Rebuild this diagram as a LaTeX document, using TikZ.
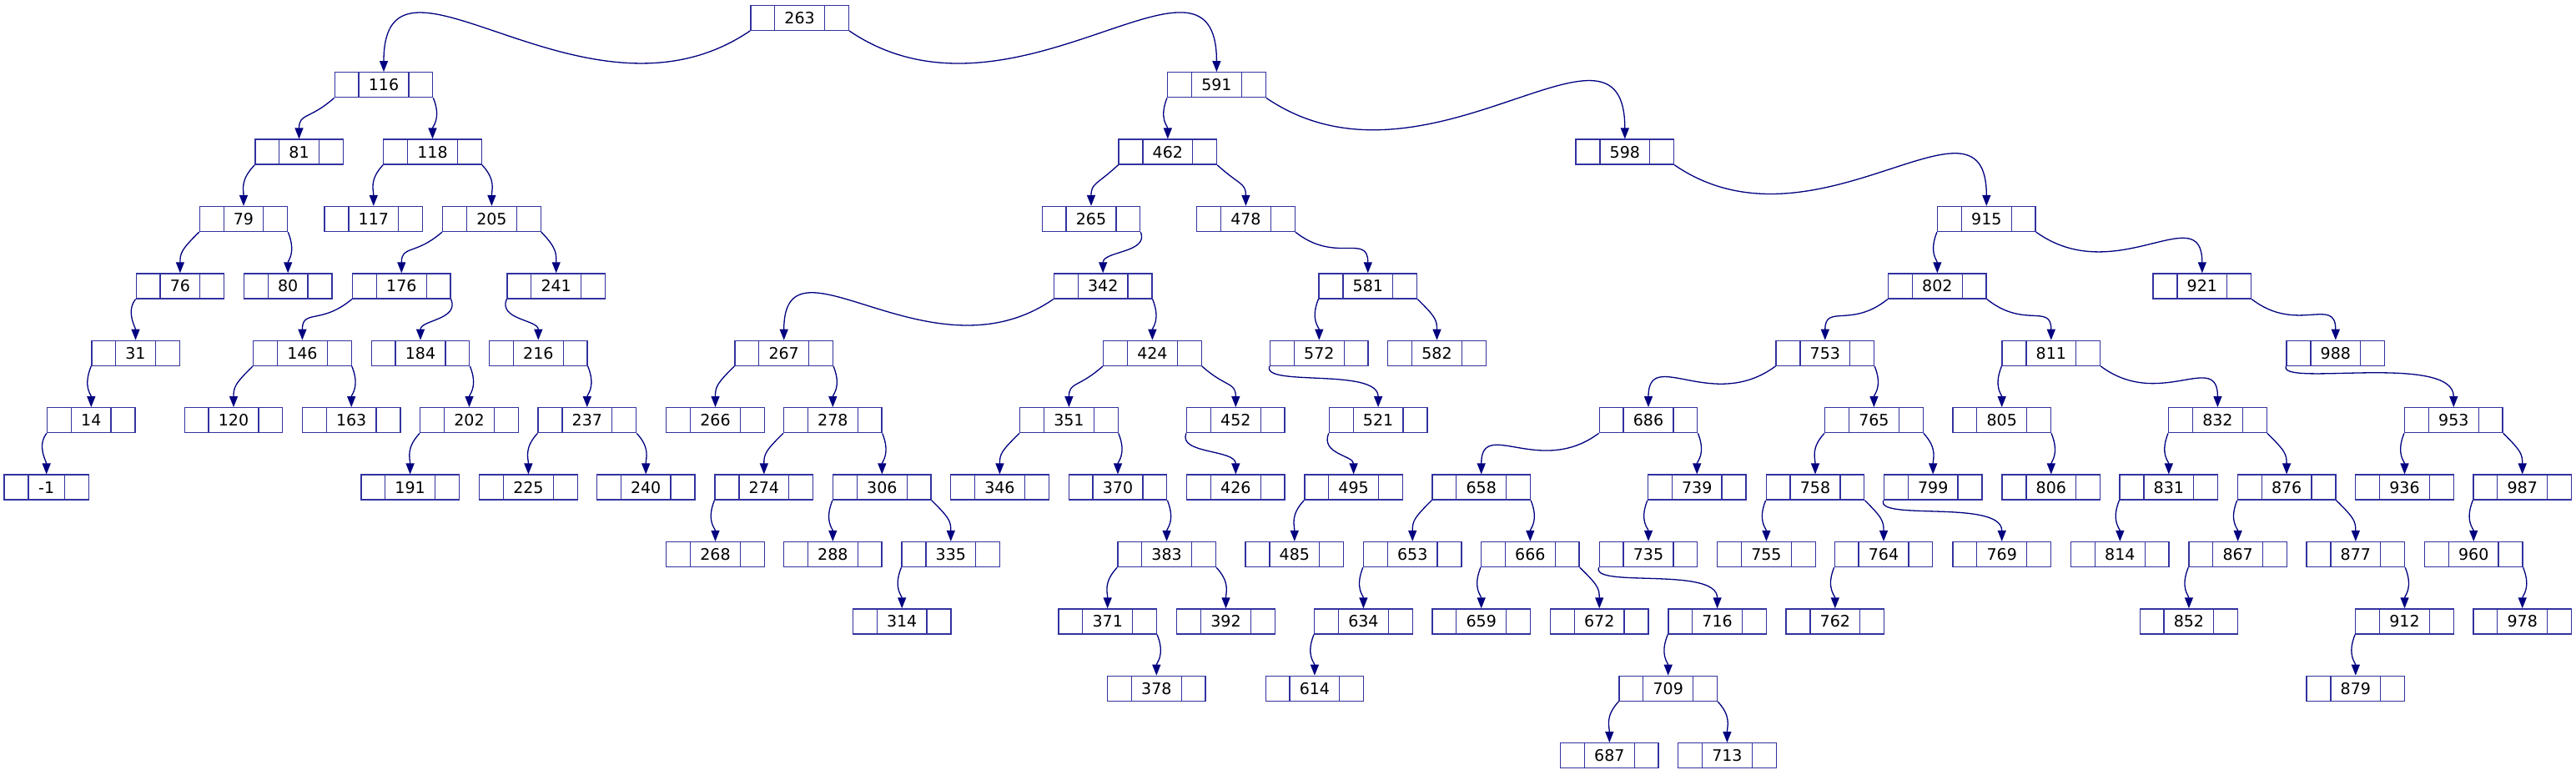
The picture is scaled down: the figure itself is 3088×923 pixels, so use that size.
\documentclass[tikz,border=0pt]{standalone}
\usepackage{fontspec}
\setmainfont{DejaVu Sans}
\usetikzlibrary{arrows.meta,calc}
\definecolor{boxc}{RGB}{50,50,160}
\definecolor{edgec}{RGB}{0,0,128}
\tikzset{
  rec/.style={draw=boxc, line width=1.3pt, minimum height=30pt, inner sep=0pt, font=\fontsize{19}{22}\selectfont},
  recline/.style={draw=boxc, line width=1.3pt},
  edge/.style={draw=edgec, line width=1.3pt, -{Triangle[length=13pt,width=10pt]}},
}
\newcommand\recnode[5]{%
  \node[rec, minimum width={#5pt+59pt}] (#1) at (#2,{21.3+80.4*#3}) {#4};
  \draw[recline] ([xshift=29.5pt]#1.north west) -- ([xshift=29.5pt]#1.south west);
  \draw[recline] ([xshift=-29.5pt]#1.north east) -- ([xshift=-29.5pt]#1.south east);}
\newcommand\tnode[3]{\recnode{n#3}{#1}{#2}{#3}{58.5}}
\newcommand\dnode[3]{\recnode{n#3}{#1}{#2}{#3}{46.3}}
\newcommand\eL[2]{\draw[edge] let \p1=(#1.south west), \p2=(#2.north),
  \n1={abs(\x2-\x1)},
  \n2={(\x2<\x1) ? (12pt+0.42*\n1) : (10pt)},
  \n3={(\x2<\x1) ? (15pt+0.27*\n1) : (25pt)},
  \n4={(\x2<\x1) ? (15pt+0.38*\n1) : (15pt+0.25*\n1)}
  in (#1.south west) .. controls (\x1-\n2,\y1-\n3) and (\x2,\y2+\n4) .. (#2.north);}
\newcommand\eR[2]{\draw[edge] let \p1=(#1.south east), \p2=(#2.north),
  \n1={abs(\x2-\x1)},
  \n2={(\x2>\x1) ? (12pt+0.42*\n1) : (10pt)},
  \n3={(\x2>\x1) ? (15pt+0.27*\n1) : (25pt)},
  \n4={(\x2>\x1) ? (15pt+0.38*\n1) : (15pt+0.25*\n1)}
  in (#1.south east) .. controls (\x1+\n2,\y1-\n3) and (\x2,\y2+\n4) .. (#2.north);}
\begin{document}
\begin{tikzpicture}[x=1pt,y=-1pt]
\path[fill=white,use as bounding box] (0,0) rectangle (3088,923);
% level 0
\tnode{958.6}{0}{263}
% level 1
\tnode{460.0}{1}{116} \tnode{1458.4}{1}{591}
% level 2
\dnode{358.5}{2}{81} \tnode{518.5}{2}{118} \tnode{1399.8}{2}{462} \tnode{1947.8}{2}{598}
% level 3
\dnode{292.0}{3}{79} \tnode{447.8}{3}{117} \tnode{589.4}{3}{205} \tnode{1308.0}{3}{265}
\tnode{1493.4}{3}{478} \tnode{2381.3}{3}{915}
% level 4
\dnode{215.9}{4}{76} \dnode{345.2}{4}{80} \tnode{481.3}{4}{176} \tnode{666.7}{4}{241}
\tnode{1322.2}{4}{342} \tnode{1639.8}{4}{581} \tnode{2322.3}{4}{802} \tnode{2639.8}{4}{921}
% level 5
\dnode{162.5}{5}{31} \tnode{362.4}{5}{146} \tnode{504.0}{5}{184} \tnode{645.3}{5}{216}
\tnode{939.7}{5}{267} \tnode{1381.4}{5}{424} \tnode{1581.3}{5}{572} \tnode{1722.5}{5}{582}
\tnode{2187.8}{5}{753} \tnode{2458.8}{5}{811} \tnode{2799.8}{5}{988}
% level 6
\dnode{109.3}{6}{14} \tnode{280.0}{6}{120} \tnode{421.2}{6}{163} \tnode{562.5}{6}{202}
\tnode{703.8}{6}{237} \tnode{857.5}{6}{266} \tnode{998.3}{6}{278} \tnode{1281.4}{6}{351}
\tnode{1481.3}{6}{452} \tnode{1652.1}{6}{521} \tnode{1976.0}{6}{686} \tnode{2246.4}{6}{765}
\tnode{2399.7}{6}{805} \tnode{2658.4}{6}{832} \tnode{2941.3}{6}{953}
% level 7
\recnode{nm1}{55.7}{7}{-1}{42.3}
\tnode{491.6}{7}{191} \tnode{633.4}{7}{225} \tnode{774.2}{7}{240} \tnode{915.8}{7}{274}
\tnode{1057.3}{7}{306} \tnode{1198.4}{7}{346} \tnode{1340.0}{7}{370} \tnode{1481.3}{7}{426}
\tnode{1622.6}{7}{495} \tnode{1775.7}{7}{658} \tnode{2034.2}{7}{739} \tnode{2176.0}{7}{758}
\tnode{2317.2}{7}{799} \tnode{2458.8}{7}{806} \tnode{2599.8}{7}{831} \tnode{2741.1}{7}{876}
\tnode{2882.5}{7}{936} \tnode{3023.7}{7}{987}
% level 8
\tnode{857.5}{8}{268} \tnode{998.3}{8}{288} \tnode{1139.8}{8}{335} \tnode{1398.6}{8}{383}
\tnode{1551.8}{8}{485} \tnode{1693.2}{8}{653} \tnode{1834.3}{8}{666} \tnode{1976.0}{8}{735}
\tnode{2117.4}{8}{755} \tnode{2258.0}{8}{764} \tnode{2399.7}{8}{769} \tnode{2541.3}{8}{814}
\tnode{2682.6}{8}{867} \tnode{2823.8}{8}{877} \tnode{2965.2}{8}{960}
% level 9
\tnode{1081.2}{9}{314} \tnode{1327.7}{9}{371} \tnode{1469.5}{9}{392} \tnode{1634.4}{9}{634}
\tnode{1775.7}{9}{659} \tnode{1917.2}{9}{672} \tnode{2058.6}{9}{716} \tnode{2199.8}{9}{762}
\tnode{2623.9}{9}{852} \tnode{2882.5}{9}{912} \tnode{3023.7}{9}{978}
% level 10
\tnode{1386.3}{10}{378} \tnode{1575.9}{10}{614} \tnode{1999.7}{10}{709} \tnode{2823.8}{10}{879}
% level 11
\tnode{1929.3}{11}{687} \tnode{2070.4}{11}{713}
% edges
\eL{n263}{n116} \eR{n263}{n591}
\eL{n116}{n81} \eR{n116}{n118}
\eL{n81}{n79}
\eL{n79}{n76} \eR{n79}{n80}
\eL{n76}{n31}
\eL{n31}{n14}
\eL{n14}{nm1}
\eL{n118}{n117} \eR{n118}{n205}
\eL{n205}{n176} \eR{n205}{n241}
\eL{n176}{n146} \eR{n176}{n184}
\eL{n146}{n120} \eR{n146}{n163}
\eR{n184}{n202}
\eL{n202}{n191}
\eL{n241}{n216}
\eR{n216}{n237}
\eL{n237}{n225} \eR{n237}{n240}
\eL{n591}{n462} \eR{n591}{n598}
\eL{n462}{n265} \eR{n462}{n478}
\eR{n265}{n342}
\eL{n342}{n267} \eR{n342}{n424}
\eL{n267}{n266} \eR{n267}{n278}
\eL{n278}{n274} \eR{n278}{n306}
\eL{n274}{n268}
\eL{n306}{n288} \eR{n306}{n335}
\eL{n335}{n314}
\eL{n424}{n351} \eR{n424}{n452}
\eL{n351}{n346} \eR{n351}{n370}
\eR{n370}{n383}
\eL{n383}{n371} \eR{n383}{n392}
\eR{n371}{n378}
\eL{n452}{n426}
\eR{n478}{n581}
\eL{n581}{n572} \eR{n581}{n582}
\eL{n572}{n521}
\eL{n521}{n495}
\eL{n495}{n485}
\eR{n598}{n915}
\eL{n915}{n802} \eR{n915}{n921}
\eL{n802}{n753} \eR{n802}{n811}
\eL{n753}{n686} \eR{n753}{n765}
\eL{n686}{n658} \eR{n686}{n739}
\eL{n658}{n653} \eR{n658}{n666}
\eL{n653}{n634}
\eL{n634}{n614}
\eL{n666}{n659} \eR{n666}{n672}
\eL{n739}{n735}
\eL{n735}{n716}
\eL{n716}{n709}
\eL{n709}{n687} \eR{n709}{n713}
\eL{n765}{n758} \eR{n765}{n799}
\eL{n758}{n755} \eR{n758}{n764}
\eL{n764}{n762}
\eL{n799}{n769}
\eL{n811}{n805} \eR{n811}{n832}
\eR{n805}{n806}
\eL{n832}{n831} \eR{n832}{n876}
\eL{n831}{n814}
\eL{n876}{n867} \eR{n876}{n877}
\eL{n867}{n852}
\eR{n877}{n912}
\eL{n912}{n879}
\eR{n921}{n988}
\eL{n988}{n953}
\eL{n953}{n936} \eR{n953}{n987}
\eL{n987}{n960}
\eR{n960}{n978}
\end{tikzpicture}
\end{document}
